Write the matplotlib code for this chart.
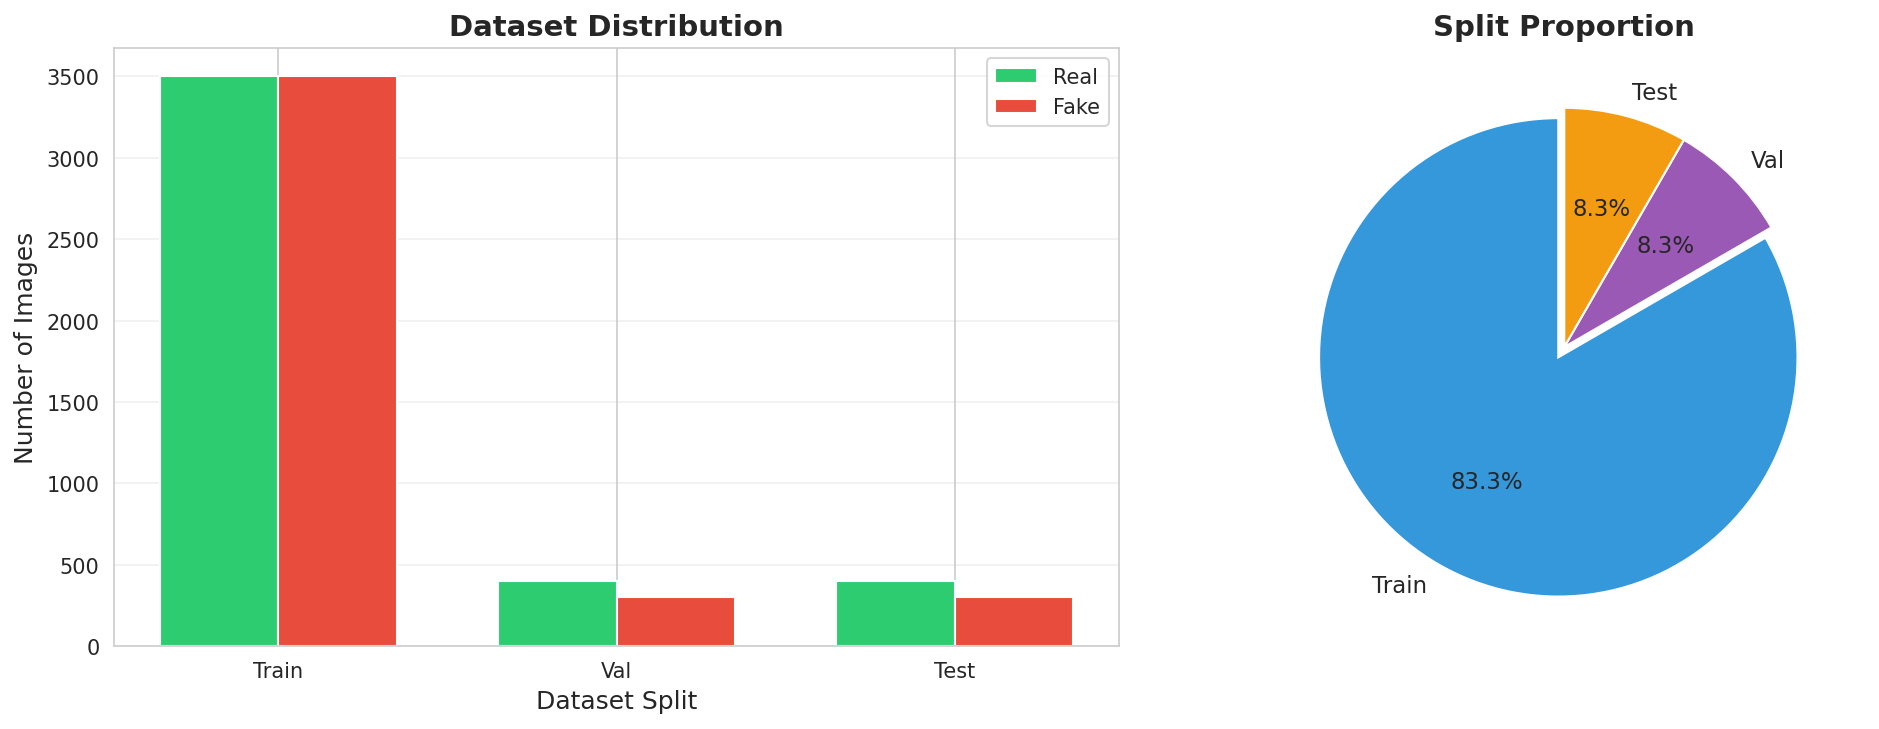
import numpy as np
import matplotlib
matplotlib.use("Agg")
import matplotlib.pyplot as plt
import seaborn as sns

splits = ["Train", "Val", "Test"]
real_counts = [3500, 400, 400]
fake_counts = [3500, 300, 300]
split_totals = [r + f for r, f in zip(real_counts, fake_counts)]

REAL_COLOR = "#2ecc71"
FAKE_COLOR = "#e74c3c"
PIE_COLORS = ["#3498db", "#9b59b6", "#f39c12"]

sns.set_style("whitegrid")
plt.rcParams["font.family"] = ["DejaVu Sans"]

fig, (ax1, ax2) = plt.subplots(1, 2, figsize=(1879 / 150, 730 / 150), dpi=150)
ax1.set_position([114 / 1879, 1 - 647 / 730, (1119 - 114) / 1879, 598 / 730])
ax2.set_position([0.8325 - 0.2, 1 - 647 / 730, 0.4, 598 / 730])

# bar chart
x = np.arange(len(splits))
width = 0.35
ax1.bar(x - width / 2, real_counts, width, label="Real", color=REAL_COLOR)
ax1.bar(x + width / 2, fake_counts, width, label="Fake", color=FAKE_COLOR)
ax1.set_xticks(x)
ax1.set_xticklabels(splits)
ax1.tick_params(labelsize=10)
ax1.set_xlabel("Dataset Split", fontsize=12)
ax1.set_ylabel("Number of Images", fontsize=12)
ax1.set_title("Dataset Distribution", fontsize=14, fontweight="bold")
ax1.legend(fontsize=10)
ax1.grid(axis="y", alpha=0.3)

# pie chart
ax2.pie(
    split_totals,
    labels=splits,
    colors=PIE_COLORS,
    autopct="%1.1f%%",
    startangle=90,
    explode=(0.05, 0, 0),
    textprops={"fontsize": 11},
)
ax2.set_title("Split Proportion", fontsize=14, fontweight="bold")

fig.savefig("out.png", dpi=150)
